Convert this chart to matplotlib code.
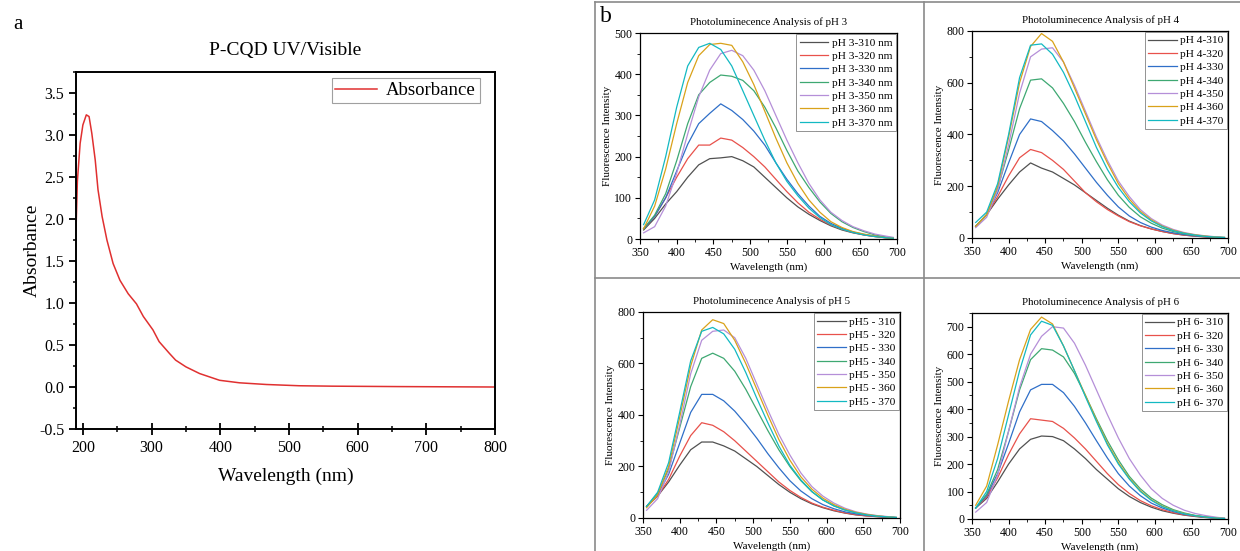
import numpy as np
import matplotlib
matplotlib.use("Agg")
import matplotlib.pyplot as plt
from matplotlib.lines import Line2D
from matplotlib.ticker import MultipleLocator

plt.rcParams["font.family"] = ["Liberation Serif", "DejaVu Serif"]
plt.rcParams["axes.unicode_minus"] = False

# --- Panel a: UV/Vis absorbance ---
uv_nm = [190, 192, 196, 200, 205, 209, 213, 218, 222, 228, 235, 244, 254, 266,
         278, 288, 302, 311, 326, 335, 350, 370, 399, 428, 467, 515, 563, 660, 800]
uv_abs = [1.87, 2.45, 2.90, 3.12, 3.24, 3.22, 3.02, 2.70, 2.35, 2.03, 1.75, 1.47,
          1.27, 1.11, 0.99, 0.84, 0.68, 0.54, 0.40, 0.32, 0.24, 0.16, 0.08, 0.05,
          0.03, 0.015, 0.01, 0.005, 0.0]

# --- Panel b: photoluminescence spectra ---
pl_nm = [355, 370, 385, 400, 415, 430, 445, 460, 475, 490, 505, 520, 535, 550,
         565, 580, 595, 610, 625, 640, 655, 670, 685, 695]

ph3 = {
    310: [22, 50, 85, 115, 150, 180, 195, 197, 200, 190, 175, 150, 125, 100, 78, 60, 45, 32, 22, 15, 10, 6, 3, 2],
    320: [25, 55, 100, 150, 195, 228, 228, 245, 240, 222, 200, 175, 145, 115, 88, 65, 48, 34, 24, 16, 10, 6, 3, 2],
    330: [25, 55, 100, 165, 230, 280, 305, 328, 312, 290, 262, 228, 185, 145, 110, 80, 55, 38, 26, 17, 11, 7, 4, 2],
    340: [25, 58, 110, 190, 280, 350, 380, 398, 395, 385, 360, 320, 270, 215, 165, 125, 90, 62, 42, 28, 18, 10, 5, 3],
    350: [15, 30, 80, 160, 255, 345, 410, 450, 458, 445, 410, 360, 300, 240, 185, 135, 95, 65, 45, 30, 20, 12, 7, 4],
    360: [25, 80, 170, 280, 380, 445, 472, 475, 470, 430, 375, 310, 245, 185, 135, 95, 65, 42, 28, 18, 12, 7, 3, 2],
    370: [35, 95, 200, 320, 420, 465, 475, 460, 420, 360, 300, 240, 185, 140, 105, 75, 52, 35, 24, 16, 10, 6, 3, 2],
}
ph4 = {
    310: [45, 90, 150, 205, 255, 290, 270, 255, 230, 205, 175, 145, 115, 88, 65, 48, 35, 25, 17, 11, 7, 4, 2, 1],
    320: [45, 90, 160, 240, 310, 342, 330, 300, 265, 220, 175, 140, 110, 85, 63, 47, 35, 25, 17, 11, 7, 4, 2, 1],
    330: [45, 90, 175, 290, 400, 460, 450, 415, 375, 325, 270, 215, 165, 120, 85, 60, 42, 29, 20, 13, 8, 5, 3, 1],
    340: [45, 90, 190, 340, 500, 610, 615, 580, 520, 450, 370, 295, 225, 165, 118, 82, 57, 38, 25, 16, 10, 6, 3, 2],
    350: [40, 80, 185, 360, 560, 700, 730, 735, 680, 590, 490, 390, 300, 220, 160, 110, 75, 50, 33, 21, 13, 8, 4, 2],
    360: [45, 90, 200, 390, 600, 740, 790, 760, 680, 580, 480, 380, 290, 210, 150, 103, 70, 46, 30, 19, 12, 7, 3, 2],
    370: [60, 100, 210, 400, 620, 745, 750, 710, 640, 550, 450, 350, 265, 195, 140, 97, 66, 44, 28, 18, 11, 6, 3, 2],
}
ph5 = {
    310: [45, 85, 140, 205, 265, 295, 295, 280, 260, 230, 200, 165, 130, 100, 75, 55, 40, 28, 19, 12, 8, 5, 3, 1],
    320: [45, 85, 150, 240, 320, 370, 360, 335, 300, 260, 220, 180, 140, 107, 80, 58, 42, 30, 20, 13, 8, 5, 3, 1],
    330: [45, 90, 170, 290, 410, 480, 480, 455, 415, 365, 310, 250, 195, 145, 105, 75, 52, 36, 24, 16, 10, 6, 3, 2],
    340: [45, 95, 190, 350, 510, 620, 640, 620, 570, 500, 420, 340, 265, 200, 145, 102, 70, 47, 31, 20, 12, 7, 4, 2],
    350: [30, 75, 180, 360, 560, 690, 725, 730, 700, 620, 520, 420, 325, 245, 175, 122, 85, 58, 38, 24, 15, 9, 5, 2],
    360: [40, 90, 200, 390, 590, 730, 770, 755, 690, 600, 500, 400, 305, 225, 160, 112, 77, 52, 34, 22, 14, 8, 4, 2],
    370: [45, 100, 215, 410, 610, 725, 740, 715, 655, 565, 465, 370, 280, 205, 148, 103, 70, 47, 31, 20, 12, 7, 4, 2],
}
ph6 = {
    310: [40, 75, 135, 200, 255, 290, 302, 300, 285, 255, 220, 180, 145, 110, 82, 60, 43, 30, 21, 14, 9, 5, 3, 1],
    320: [40, 80, 150, 235, 310, 365, 360, 355, 330, 295, 255, 210, 165, 125, 93, 67, 48, 34, 23, 15, 10, 6, 3, 1],
    330: [40, 85, 165, 275, 390, 470, 490, 490, 460, 410, 350, 285, 222, 165, 120, 85, 58, 40, 27, 17, 11, 6, 3, 2],
    340: [40, 90, 180, 320, 470, 580, 620, 615, 590, 530, 450, 365, 285, 215, 155, 110, 76, 52, 34, 22, 13, 8, 4, 2],
    350: [25, 60, 160, 320, 480, 600, 665, 700, 695, 640, 560, 470, 380, 295, 220, 160, 110, 75, 50, 32, 20, 12, 6, 3],
    360: [50, 120, 270, 430, 580, 690, 735, 710, 630, 540, 450, 360, 275, 205, 148, 103, 70, 47, 31, 20, 12, 7, 3, 2],
    370: [40, 100, 220, 380, 540, 670, 720, 705, 630, 540, 445, 355, 270, 200, 145, 100, 68, 45, 30, 19, 12, 7, 3, 2],
}

pl_colors = ["#515151", "#e8514b", "#2f6fc8", "#3ea872", "#b58fd8", "#d9a21a", "#13b9c2"]

fig = plt.figure(figsize=(12.4, 5.51), dpi=100)

# Panel a
ax = fig.add_axes([0.0613, 0.2214, 0.3379, 0.6479])
ax.plot(uv_nm, uv_abs, color="#e03030", lw=1.1, label="Absorbance")
ax.set_xlim(190, 800)
ax.set_ylim(-0.5, 3.75)
ax.xaxis.set_major_locator(MultipleLocator(100))
ax.xaxis.set_minor_locator(MultipleLocator(50))
ax.yaxis.set_major_locator(MultipleLocator(0.5))
ax.yaxis.set_minor_locator(MultipleLocator(0.25))
ax.tick_params(axis="x", which="major", direction="inout", length=9, width=1.3, labelsize=11.5)
ax.tick_params(axis="x", which="minor", direction="inout", length=5, width=1.1)
ax.tick_params(axis="y", which="major", direction="out", length=5, width=1.3, labelsize=11.5)
ax.tick_params(axis="y", which="minor", direction="out", length=2.5, width=1.1)
for s in ax.spines.values():
    s.set_linewidth(1.4)
ax.set_title("P-CQD UV/Visible", fontsize=14, pad=12)
ax.set_xlabel("Wavelength (nm)", fontsize=14, labelpad=8)
ax.set_ylabel("Absorbance", fontsize=14, labelpad=-1)
leg = ax.legend(loc="upper right", bbox_to_anchor=(0.963, 0.982), fontsize=13.5,
                frameon=True, fancybox=False, edgecolor="#888888",
                handlelength=2.2, borderpad=0.2, borderaxespad=0.0, handletextpad=0.5)
leg.get_frame().set_linewidth(0.8)
fig.text(0.011, 0.972, "a", fontsize=15, va="top")

# Panel b frame lines
frame_kw = dict(color="#8a8a8a", lw=1.2, transform=fig.transFigure)
W, H = 1240, 551
fig.add_artist(Line2D([595 / W, 1.0], [1 - 2 / H, 1 - 2 / H], **frame_kw))
fig.add_artist(Line2D([595 / W, 595 / W], [0, 1 - 2 / H], **frame_kw))
fig.add_artist(Line2D([924 / W, 924 / W], [0, 1 - 2 / H], **frame_kw))
fig.add_artist(Line2D([595 / W, 1.0], [1 - 278 / H, 1 - 278 / H], **frame_kw))
fig.text(600 / W, 1 - 6 / H, "b", fontsize=17, va="top")

panels = [
    ([0.5161, 0.5662, 0.2073, 0.3739], ph3, 3, "pH 3-{} nm", 500, 100),
    ([0.7839, 0.5681, 0.2065, 0.3757], ph4, 4, "pH 4-{}", 800, 200),
    ([0.5185, 0.0599, 0.2073, 0.3739], ph5, 5, "pH5 - {}", 800, 200),
    ([0.7839, 0.0581, 0.2065, 0.3739], ph6, 6, "pH 6- {}", 750, 100),
]

for rect, data, ph, fmt, ymax, ystep in panels:
    bx = fig.add_axes(rect)
    for (exc, vals), c in zip(data.items(), pl_colors):
        bx.plot(pl_nm, vals, color=c, lw=0.9, label=fmt.format(exc))
    bx.set_xlim(350, 700)
    bx.set_ylim(0, ymax)
    bx.xaxis.set_major_locator(MultipleLocator(50))
    bx.xaxis.set_minor_locator(MultipleLocator(25))
    bx.yaxis.set_major_locator(MultipleLocator(ystep))
    bx.yaxis.set_minor_locator(MultipleLocator(ystep / 2))
    bx.tick_params(which="major", direction="out", length=3.5, width=0.8, labelsize=8.5, pad=2)
    bx.tick_params(which="minor", direction="out", length=2, width=0.6)
    for s in bx.spines.values():
        s.set_linewidth(0.9)
    bx.set_title(f"Photoluminecence Analysis of pH {ph}", fontsize=7.8, pad=6)
    bx.set_xlabel("Wavelength (nm)", fontsize=8, labelpad=3)
    bx.set_ylabel("Fluorescence Intensity", fontsize=8, labelpad=2)
    leg = bx.legend(loc="upper right", fontsize=8.2, frameon=True, fancybox=False,
                    edgecolor="#777777", handlelength=2.5, labelspacing=0.3,
                    borderpad=0.3, borderaxespad=0.1, handletextpad=0.3)
    leg.get_frame().set_linewidth(0.7)

fig.savefig("out.png", dpi=100)
